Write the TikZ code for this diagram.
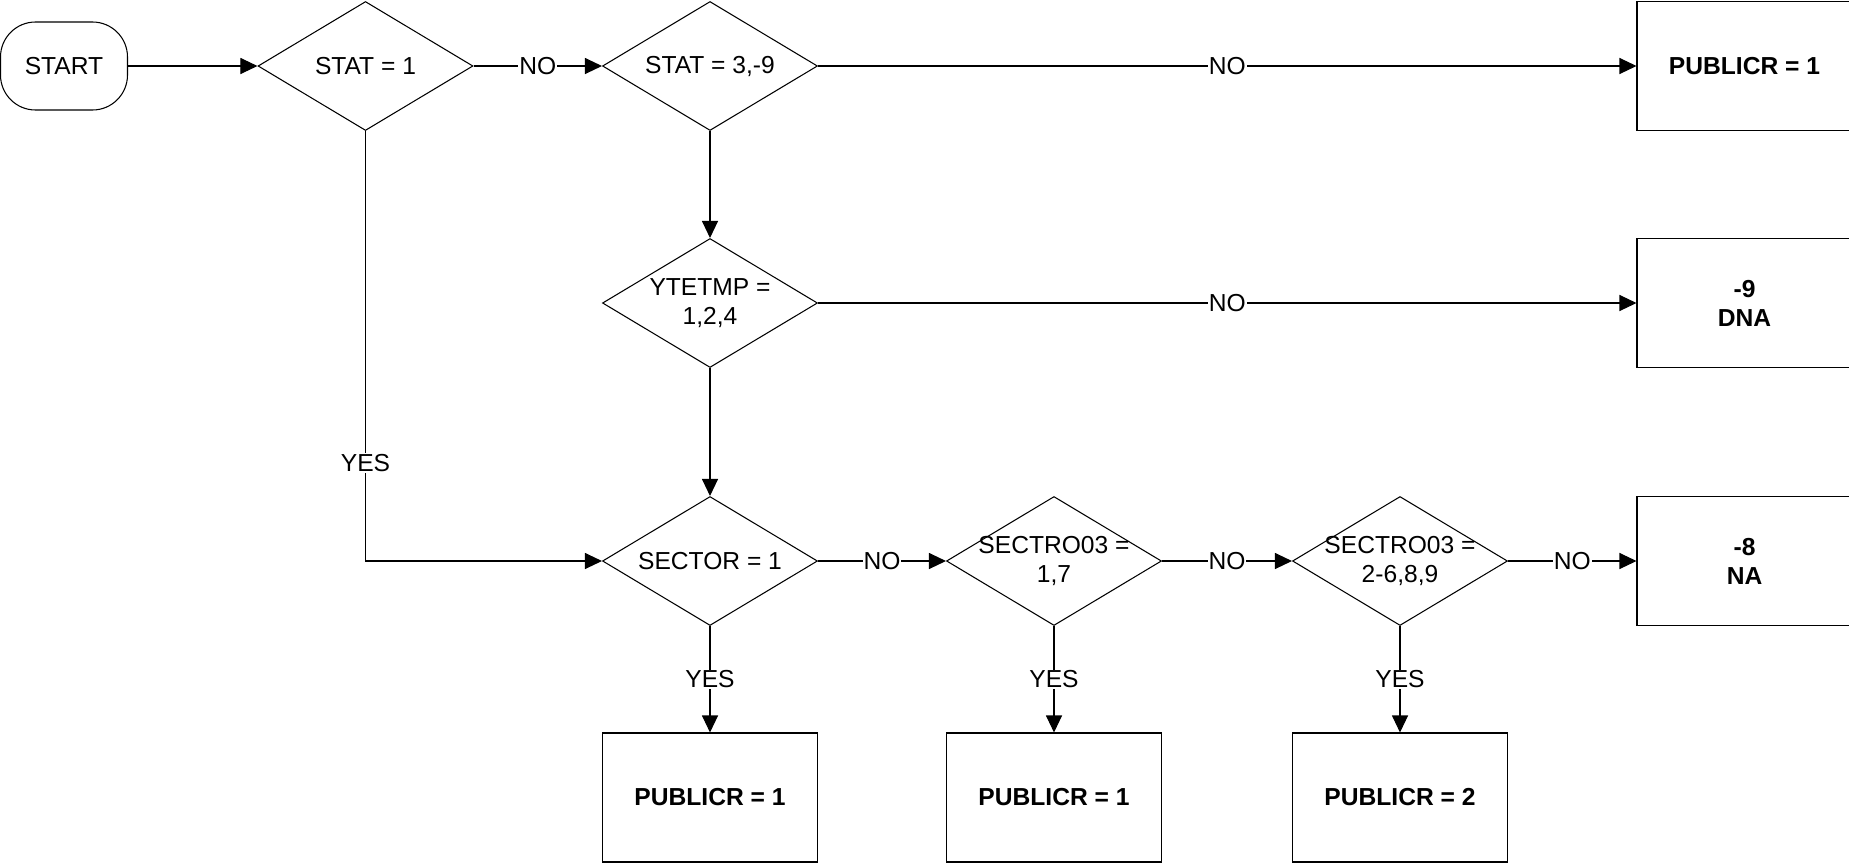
\documentclass[tikz,border=0pt]{standalone}
\usepackage{fontspec}
\setmainfont{Liberation Sans}
\usepackage{tikz}
\usetikzlibrary{positioning,arrows.meta,shapes.geometric}
\tikzset{
    term/.style={
        rectangle,
        draw=black,
        rounded corners=0.7cm,
        minimum width=2.54cm,
        minimum height=1.76cm,
        inner sep=1pt
    },
    decide/.style={
        diamond,
        draw=black,
        minimum width=4.3cm,
        minimum height=2.58cm,
        inner xsep=-1.2cm,
        inner ysep=-0.4cm,
        align=center
    },
    res/.style={
        rectangle,
        draw=black,
        minimum width=4.3cm,
        minimum height=2.58cm,
        align=center,
        font=\fontsize{14}{16.5}\selectfont\bfseries
    },
    lbl/.style={fill=white,inner sep=0.5pt},
    arr/.style={-{Triangle[length=0.34cm,width=0.32cm]},line width=0.6pt}
}

\begin{document}
\begin{tikzpicture}[font=\fontsize{14}{16.5}\selectfont,line width=0.6pt]
\useasboundingbox (0,0) rectangle (36.98,-17.26);

\node[term] (start) at (1.28,-1.32) {START};

\node[decide] (stat1) at (7.31,-1.32) {STAT = 1};
\node[decide] (stat3) at (14.2,-1.32) {STAT = 3,-9};
\node[decide] (ytetmp) at (14.2,-6.06) {YTETMP =\\1,2,4};

\node[decide] (sector) at (14.2,-11.22) {SECTOR = 1};
\node[decide] (sec1) at (21.08,-11.22) {SECTRO03 =\\1,7};
\node[decide] (sec2) at (28.0,-11.22) {SECTRO03 =\\2-6,8,9};

\node[res] (pub1) at (34.89,-1.32) {PUBLICR = 1};
\node[res] (dna) at (34.89,-6.06) {-9\\DNA};
\node[res] (na) at (34.89,-11.22) {-8\\NA};

\node[res] (pubA) at (14.2,-15.95) {PUBLICR = 1};
\node[res] (pubB) at (21.08,-15.95) {PUBLICR = 1};
\node[res] (pubC) at (28.0,-15.95) {PUBLICR = 2};

\draw[arr] (start) -- (stat1);
\draw[arr] (stat1) -- node[lbl] {NO} (stat3);
\draw[arr] (stat3) -- node[lbl] {NO} (pub1);
\draw[arr] (stat3) -- (ytetmp);
\draw[arr] (ytetmp) -- node[lbl] {NO} (dna);
\draw[arr] (ytetmp) -- (sector);
\draw[arr] (stat1) |- node[lbl,pos=0.386] {YES} (sector);

\draw[arr] (sector) -- node[lbl] {NO} (sec1);
\draw[arr] (sec1) -- node[lbl] {NO} (sec2);
\draw[arr] (sec2) -- node[lbl] {NO} (na);

\draw[arr] (sector) -- node[lbl] {YES} (pubA);
\draw[arr] (sec1) -- node[lbl] {YES} (pubB);
\draw[arr] (sec2) -- node[lbl] {YES} (pubC);
\end{tikzpicture}
\end{document}
